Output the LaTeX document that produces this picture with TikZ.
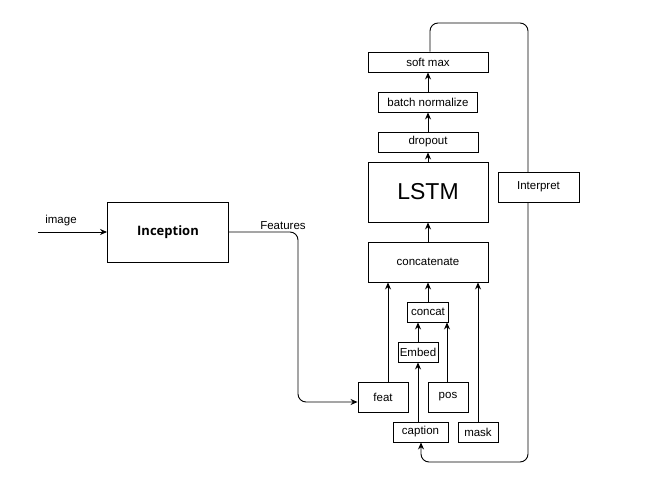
\documentclass[tikz,border=0pt]{standalone}
\usepackage{fontspec}
\setmainfont{Liberation Sans}
\newfontfamily\incfont{Open Sans}
\usetikzlibrary{arrows.meta}

\begin{document}
\begin{tikzpicture}[->,>={Stealth[length=7pt,width=6pt]},x=1pt,y=-1pt,line width=0.9pt]
      \tikzstyle{every node}=[font=\fontsize{11.5}{13}\selectfont];
      \tikzstyle{box}=[draw,fill=white,inner sep=0pt];
      \tikzstyle{lbl}=[inner sep=0pt];
        \useasboundingbox (0,0) rectangle (656,478);

        \path (168,232) node[box,minimum width=121pt,minimum height=60pt] (inception) {\incfont\fontsize{13}{15}\selectfont\bfseries Inception};
        \path (428,62)  node[box,minimum width=120pt,minimum height=20pt] (softmax) {soft max};
        \path (428,102) node[box,minimum width=99pt,minimum height=20pt] (batchnorm) {batch normalize};
        \path (428,142) node[box,minimum width=100pt,minimum height=20pt] (dropout) {dropout};
        \path (428,192) node[box,minimum width=120pt,minimum height=60pt] (lstm) {\fontsize{23}{26}\selectfont LSTM};
        \path (428,262) node[box,minimum width=120pt,minimum height=40pt] (concatenate) {concatenate};
        \path (428,312) node[box,minimum width=41pt,minimum height=20pt] (concat) {concat};
        \path (418,352) node[box,minimum width=40pt,minimum height=20pt] (embed) {Embed};
        \path (383,397) node[box,minimum width=50pt,minimum height=30pt] (feat) {feat};
        \path (448,397) node[box,minimum width=40pt,minimum height=30pt] (pos) {pos};
        \path (420.5,432) node[box,minimum width=55pt,minimum height=20pt] (caption) {caption};
        \path (478,432) node[box,minimum width=40pt,minimum height=20pt] (mask) {mask};

        \path (61,221)  node[lbl] (imagelbl) {image};
        \path (283,226) node[lbl] (featlbl) {Features};
        \coordinate (imagein) at (38,232);

        \path[->,draw] (imagein) -- (inception);
        \path[->,draw,rounded corners=8pt] (inception.east) -- (298,232) -- (298,402) -- ([yshift=-5pt]feat.west);

        \path[->,draw] (feat.north -| 388,0) -- (concatenate.south -| 388,0);
        \path[->,draw] (concat) -- (concatenate);
        \path[->,draw] (mask) -- (concatenate.south -| mask);
        \path[->,draw] (embed) -- (concat.south -| embed);
        \path[->,draw] (pos.north -| 447,0) -- (concat.south -| 447,0);
        \path[->,draw] (caption.north -| embed) -- (embed);
        \path[->,draw] (concatenate) -- (lstm);
        \path[->,draw] (lstm) -- (dropout);
        \path[->,draw] (dropout) -- (batchnorm);
        \path[->,draw] (batchnorm) -- (softmax);

        \path[-,draw,rounded corners=8pt] (softmax.north -| 430,0) -- (430,23) -- (528,23) -- (528,172);
        \path[->,draw,rounded corners=8pt] (528,202) -- (528,462) -- (421,462) -- (caption.south -| 421,0);
        \path (538.5,187) node[box,minimum width=81pt,minimum height=30pt] (interpret) {Interpret};
    \end{tikzpicture}
\end{document}
